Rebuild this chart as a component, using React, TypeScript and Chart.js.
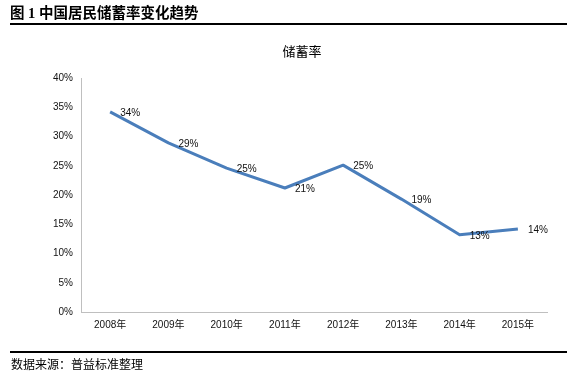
import React, { useEffect, useRef } from "react";
import { Chart, registerables } from "chart.js";

Chart.register(...registerables);

const years = ["2008年", "2009年", "2010年", "2011年", "2012年", "2013年", "2014年", "2015年"];
const savingsRate = [0.342, 0.289, 0.246, 0.212, 0.251, 0.193, 0.132, 0.142];
const yTicks = [0, 0.05, 0.1, 0.15, 0.2, 0.25, 0.3, 0.35, 0.4];

const headerTitle = "图 1 中国居民储蓄率变化趋势";
const chartTitle = "储蓄率";
const sourceNote = "数据来源：普益标准整理";

const FONT = "'Liberation Sans', 'Noto Sans CJK SC', sans-serif";

const labelPlugin = {
  id: "valueLabels",
  afterDatasetsDraw(chart: any) {
    const ctx = chart.ctx;
    const meta = chart.getDatasetMeta(0);
    const data = chart.data.datasets[0].data as number[];
    ctx.save();
    ctx.font = `10px ${FONT}`;
    ctx.fillStyle = "#111";
    ctx.textAlign = "left";
    ctx.textBaseline = "middle";
    meta.data.forEach((pt: any, i: number) => {
      ctx.fillText(Math.round(data[i] * 100) + "%", pt.x + 10, pt.y + 1);
    });
    ctx.restore();
  },
};

export default function App() {
  const ref = useRef<HTMLCanvasElement>(null);
  useEffect(() => {
    if (!ref.current) return;
    const chart = new Chart(ref.current, {
      type: "line",
      data: {
        labels: years,
        datasets: [
          {
            data: savingsRate,
            borderColor: "#4A7EBB",
            borderWidth: 3,
            pointRadius: 0,
            tension: 0,
            borderJoinStyle: "round",
            fill: false,
          },
        ],
      },
      options: {
        responsive: false,
        animation: false,
        devicePixelRatio: 1,
        layout: { padding: { left: 0, top: 78, right: 27, bottom: 0 } },
        plugins: { legend: { display: false }, tooltip: { enabled: false }, title: { display: false } },
        scales: {
          x: {
            offset: true,
            grid: { display: false, drawTicks: false },
            border: { display: true, color: "#BFBFBF", width: 1 },
            ticks: { color: "#111", font: { size: 10, family: FONT }, padding: 7, maxRotation: 0, autoSkip: false },
            afterFit(scale: any) {
              scale.height = 64;
            },
          },
          y: {
            min: 0,
            max: 0.4,
            afterBuildTicks(scale: any) {
              scale.ticks = yTicks.map((v) => ({ value: v }));
            },
            grid: { display: false, drawTicks: false },
            border: { display: true, color: "#BFBFBF", width: 1 },
            ticks: {
              color: "#111",
              font: { size: 10, family: FONT },
              padding: 8,
              callback: (v: any) => Math.round(Number(v) * 100) + "%",
            },
            afterFit(scale: any) {
              scale.width = 81;
            },
          },
        },
      },
      plugins: [labelPlugin],
    });
    return () => chart.destroy();
  }, []);

  return (
    <div style={{ position: "absolute", left: 0, top: 0, width: 574, height: 376, background: "#fff", overflow: "hidden" }}>
      <canvas ref={ref} width={574} height={376} style={{ position: "absolute", left: 0, top: 0 }} />
      <div
        style={{
          position: "absolute",
          left: 10,
          top: 4,
          fontFamily: "'Liberation Serif', 'Noto Sans CJK SC', serif",
          fontWeight: "bold",
          fontSize: 14.5,
          lineHeight: "19px",
          whiteSpace: "nowrap",
          color: "#000",
        }}
      >
        {headerTitle}
      </div>
      <div style={{ position: "absolute", left: 10, top: 23, width: 557, height: 2, background: "#000" }} />
      <div
        style={{
          position: "absolute",
          left: 302 - 40,
          width: 80,
          top: 43,
          textAlign: "center",
          fontFamily: "'Noto Sans CJK SC', sans-serif",
          fontSize: 13,
          lineHeight: "16px",
          color: "#000",
        }}
      >
        {chartTitle}
      </div>
      <div style={{ position: "absolute", left: 10, top: 351, width: 557, height: 2, background: "#000" }} />
      <div
        style={{
          position: "absolute",
          left: 11,
          top: 356,
          fontFamily: "'Noto Sans CJK SC', sans-serif",
          fontSize: 12,
          lineHeight: "16px",
          whiteSpace: "nowrap",
          color: "#000",
        }}
      >
        {sourceNote}
      </div>
    </div>
  );
}
